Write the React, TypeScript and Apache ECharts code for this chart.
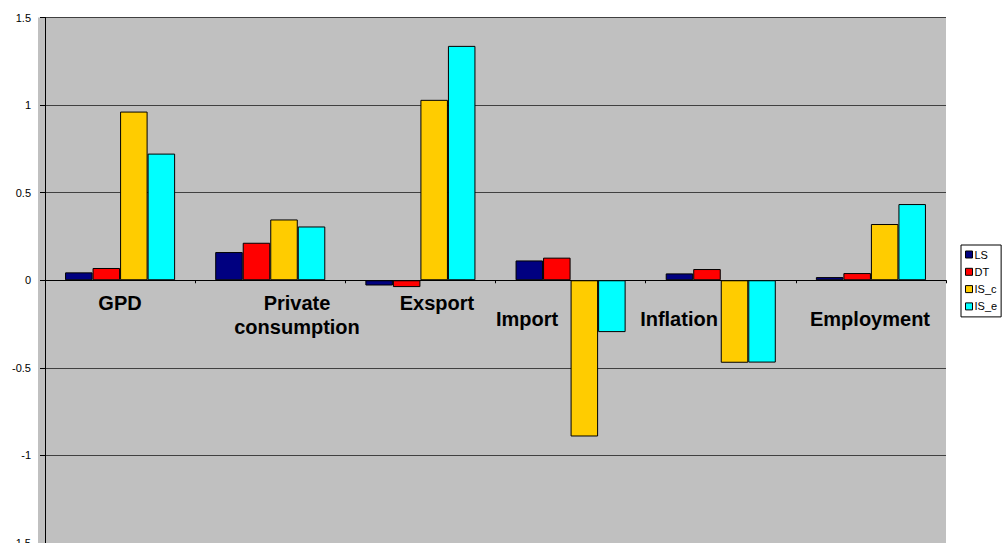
import React, { useEffect, useRef } from "react";
import * as echarts from "echarts";

const categories = ["GPD", "Private\nconsumption", "Exsport", "Import", "Inflation", "Employment"];
const seriesNames = ["LS", "DT", "IS_c", "IS_e"];
const LS = [0.045, 0.161, -0.03, 0.113, 0.039, 0.018];
const DT = [0.07, 0.214, -0.039, 0.129, 0.064, 0.041];
const IS_c = [0.963, 0.347, 1.03, -0.892, -0.471, 0.321];
const IS_e = [0.723, 0.307, 1.338, -0.296, -0.47, 0.435];
const colors = ["#000080", "#FF0000", "#FFCC00", "#00FFFF"];
const yTicks = { min: -1.5, max: 1.5, interval: 0.5 };

// label placements (center x, middle y) as in the original
const labelPos = [
  [120, 303],
  [297, 315],
  [437, 303],
  [527, 319],
  [679, 319],
  [870, 319],
];

const FONT = "'Liberation Sans', Arial, sans-serif";

export default function App() {
  const ref = useRef<HTMLDivElement>(null);
  useEffect(() => {
    const chart = echarts.init(ref.current!, null, { renderer: "svg" });
    const data = [LS, DT, IS_c, IS_e];
    chart.setOption({
      animation: false,
      textStyle: { fontFamily: FONT },
      grid: {
        left: 45,
        right: 60,
        top: 17.5,
        bottom: 0,
        show: true,
        backgroundColor: "#C0C0C0",
        borderWidth: 0,
        outerBoundsMode: "none",
        containLabel: false,
      },
      legend: {
        orient: "vertical",
        left: 961,
        top: 245,
        width: 42,
        padding: [4, 4, 5, 4],
        itemWidth: 7,
        itemHeight: 7,
        itemGap: 6.3,
        icon: "rect",
        backgroundColor: "#FFFFFF",
        borderColor: "#000000",
        borderWidth: 1,
        borderRadius: 0,
        textStyle: { fontSize: 11, color: "#000", fontFamily: FONT, padding: [0, 0, 0, -3] },
        itemStyle: { borderColor: "#000", borderWidth: 1 },
        data: seriesNames,
      },
      xAxis: {
        type: "category",
        data: categories,
        axisLine: { onZero: true, lineStyle: { color: "#000", width: 1 } },
        axisTick: { show: true, length: 3, lineStyle: { color: "#000" } },
        axisLabel: { show: false },
        splitLine: { show: false },
      },
      yAxis: {
        type: "value",
        min: yTicks.min,
        max: yTicks.max,
        interval: yTicks.interval,
        axisLine: { show: true, lineStyle: { color: "#000", width: 1 } },
        axisTick: { show: true, length: 5, lineStyle: { color: "#000" } },
        axisLabel: { fontSize: 11, color: "#000", margin: 14, fontFamily: FONT },
        splitLine: { show: true, lineStyle: { color: "#404040", width: 1 } },
      },
      series: seriesNames.map((name, i) => ({
        name,
        type: "bar",
        data: data[i],
        barGap: "0%",
        barCategoryGap: "26.7%",
        itemStyle: { color: colors[i], borderColor: "#000", borderWidth: 1 },
      })),
      graphic: [
        {
          type: "rect",
          left: 38,
          top: 17.5,
          z: -10,
          shape: { width: 8, height: 526 },
          style: { fill: "#C0C0C0" },
          silent: true,
        },
        ...categories.map((c, i) => ({
          type: "text",
          x: labelPos[i][0],
          y: labelPos[i][1],
          z: 100,
          style: {
            text: c,
            fill: "#000",
            font: `bold 20px ${FONT}`,
            align: "center",
            verticalAlign: "middle",
            lineHeight: 24,
          },
        })),
      ],
    });
    return () => chart.dispose();
  }, []);
  return (
    <div
      ref={ref}
      style={{ position: "fixed", left: 0, top: 0, width: 1006, height: 543, background: "#fff" }}
    />
  );
}
